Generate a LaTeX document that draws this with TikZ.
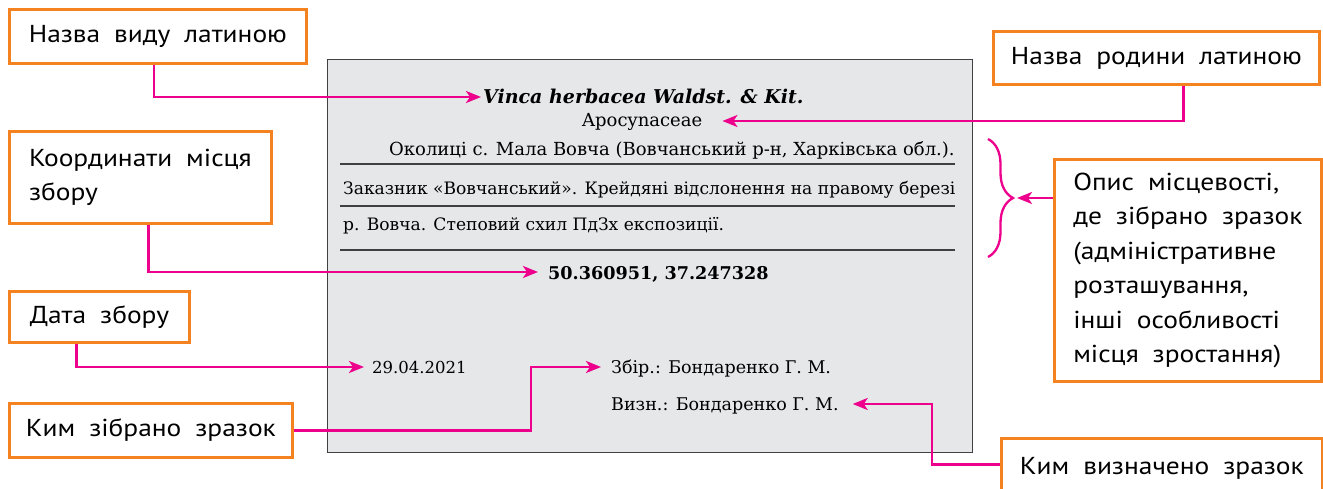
\documentclass[tikz,border=0pt]{standalone}
\usepackage{fontspec}
\setmainfont{DejaVu Serif}
\newfontfamily\labelfont{PT Sans}[FakeStretch=1.12,WordSpace=1.9]
\usetikzlibrary{arrows.meta,positioning,calc,decorations.pathreplacing}
\definecolor{tagorange}{RGB}{245,130,32}
\definecolor{leadpink}{RGB}{236,0,140}
\definecolor{cardbg}{RGB}{230,231,233}
\definecolor{cardline}{RGB}{64,64,66}

\begin{document}
\begin{tikzpicture}[x=1pt,y=-1pt,
  tagbox/.style={draw=tagorange,line width=2.8pt,fill=white,inner sep=0pt,anchor=north west,
    align=left,font=\labelfont\fontsize{24.5}{34.5}\selectfont},
  entry/.style={anchor=west,inner sep=0pt,text height=12pt,text depth=0pt,
    font=\fontsize{17.5}{20}\selectfont},
  pointer/.style={draw=leadpink,line width=2.5pt,shorten >=4pt,
    -{Stealth[length=15pt,width=12pt,inset=4pt]}},
  rule/.style={draw=cardline,line width=1.4pt}]
  \useasboundingbox (0,0) rectangle (1323,489);
  % herbarium label
  \node[draw=cardline,line width=1.4pt,fill=cardbg,minimum width=645,minimum height=393,
    anchor=north west,inner sep=0pt] (card) at (327,59) {};
  \foreach \y in {164,206,250} \draw[rule] (340,\y) -- (955,\y);
  \node[entry,text height=14pt,font=\bfseries\itshape\fontsize{19}{22}\selectfont] (species) at (483,97)
    {Vinca herbacea Waldst. \& Kit.};
  \node[entry,font=\fontsize{18}{22}\selectfont] (family) at (582,121) {Apocynaceae};
  \node[entry,anchor=base west,font=\fontsize{18}{22}\selectfont] (loc1) at (389,156)
    {Околиці с. Мала Вовча (Вовчанський р-н, Харківська обл.).};
  \node[entry,anchor=base west,font=\fontsize{17.1}{22}\selectfont] (loc2) at (343,195)
    {Заказник «Вовчанський». Крейдяні відслонення на правому березі};
  \node[entry,anchor=base west,font=\fontsize{17.1}{22}\selectfont] (loc3) at (343,231)
    {р. Вовча. Степовий схил ПдЗх експозиції.};
  \node[entry,text height=15pt,font=\bfseries\fontsize{17.6}{22}\selectfont] (coords) at (548,272)
    {50.360951, 37.247328};
  \node[entry,font=\fontsize{16.5}{20}\selectfont] (date) at (372,367) {29.04.2021};
  \node[entry] (coll) at (611,367) {Збір.: Бондаренко Г. М.};
  \node[entry] (det) at (611,404) {Визн.: Бондаренко Г. М.};
  % captions
  \node[tagbox,minimum width=297,minimum height=54] (vidbox) at (8,8) {Назва виду латиною};
  \node[tagbox,minimum width=326,minimum height=53] (fambox) at (992,30) {Назва родини латиною};
  \node[tagbox,minimum width=262,minimum height=92] (coordbox) at (8,130) {Координати місця\\збору};
  \node[tagbox,minimum width=180,minimum height=51] (datebox) at (8,290) {Дата збору};
  \node[tagbox,minimum width=283,minimum height=54] (collbox) at (8,402) {Ким зібрано зразок};
  \node[tagbox,minimum width=267,minimum height=222] (descbox) at (1053,158)
    {Опис місцевості,\\де зібрано зразок\\(адміністративне\\розташування,\\інші особливості\\місця зростання)};
  \node[tagbox,minimum width=321,minimum height=60] (detbox) at (1000,437) {Ким визначено зразок};
  % leaders
  \draw[pointer,shorten >=2pt] ([xshift=-4pt]vidbox.south) |- (species.west);
  \draw[pointer,shorten >=20pt] ([xshift=27pt]fambox.south) |- (family.east);
  \draw[pointer,shorten >=10pt] ([xshift=8pt]coordbox.south) |- (coords.west);
  \draw[pointer,shorten >=8pt] ([xshift=-23pt]datebox.south) |- (date.west);
  \draw[pointer,shorten >=10pt] (collbox.east) -- ++(237,0) |- (coll.west);
  \draw[pointer,shorten >=14pt] ([yshift=4pt]detbox.west) -- ++(-68,0) |- (det.east);
  \draw[leadpink,line width=2.3pt,decorate,decoration={brace,amplitude=25pt}] (988,139) -- (988,257);
  \coordinate (bracetip) at (1013,198);
  \draw[pointer] (descbox.west |- bracetip) -- (bracetip);
\end{tikzpicture}
\end{document}
